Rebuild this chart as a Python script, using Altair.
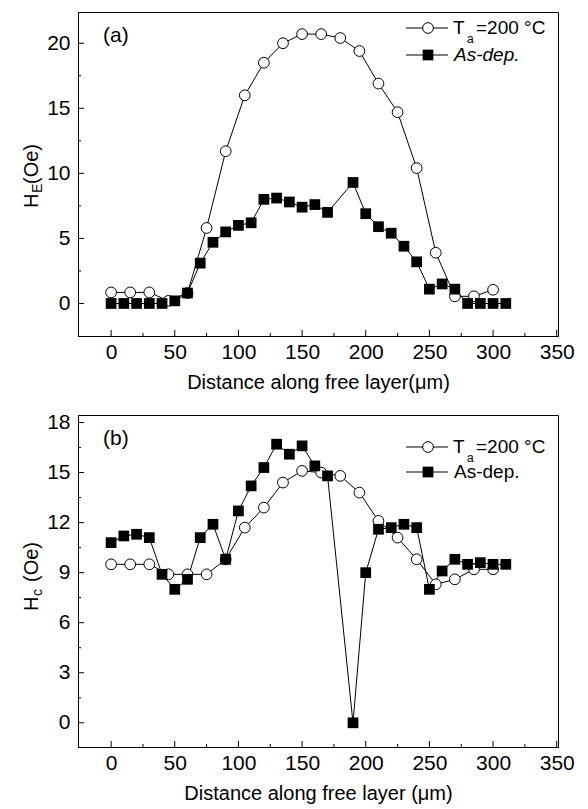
import altair as alt
import pandas as pd

FONT = "Liberation Sans"

# ---- data ----
sq_x = [0, 10, 20, 30, 40, 50, 60, 70, 80, 90, 100, 110, 120, 130, 140, 150, 160, 170,
        190, 200, 210, 220, 230, 240, 250, 260, 270, 280, 290, 300, 310]
circ_x = [0, 15, 30, 45, 60, 75, 90, 105, 120, 135, 150, 165, 180, 195, 210, 225, 240,
          255, 270, 285, 300]

he_asdep = [0, 0, 0, 0, 0, 0.2, 0.8, 3.1, 4.7, 5.5, 6.0, 6.2, 8.0, 8.1, 7.8, 7.4, 7.6, 7.0,
            9.3, 6.9, 5.9, 5.4, 4.4, 3.2, 1.1, 1.5, 1.1, 0, 0, 0, 0]
he_annealed = [0.85, 0.85, 0.85, 0.2, 0.8, 5.8, 11.7, 16.0, 18.5, 20.0, 20.7, 20.7, 20.4,
               19.4, 16.9, 14.7, 10.4, 3.9, 0.55, 0.55, 1.05]

hc_asdep = [10.8, 11.2, 11.3, 11.1, 8.9, 8.0, 8.6, 11.1, 11.9, 9.8, 12.7, 14.2, 15.3, 16.7,
            16.1, 16.6, 15.4, 14.8, 0, 9.0, 11.6, 11.7, 11.9, 11.7, 8.0, 9.1, 9.8, 9.5, 9.6,
            9.5, 9.5]
hc_annealed = [9.5, 9.5, 9.5, 8.9, 8.9, 8.9, 9.8, 11.7, 12.9, 14.4, 15.1, 15.0, 14.8, 13.8,
               12.1, 11.1, 9.8, 8.3, 8.6, 9.2, 9.2]

x_ticks = [0, 50, 100, 150, 200, 250, 300, 350]
x_minor = [25, 75, 125, 175, 225, 275, 325]
he_ticks = [0, 5, 10, 15, 20]
he_minor = [2.5, 7.5, 12.5, 17.5]
hc_ticks = [0, 3, 6, 9, 12, 15, 18]
hc_minor = [1.5, 4.5, 7.5, 10.5, 13.5, 16.5]

legend_annealed = "=200 °C"
legend_asdep = "As-dep."

W = 480
XDOM = [-26, 351]


def txt(text, x, y, size=20, angle=0, align="left", baseline="middle", style="normal"):
    props = dict(text=text, font=FONT, fontSize=size, align=align, baseline=baseline,
                 color="black", fontStyle=style)
    if angle:
        props["angle"] = angle
    return alt.Chart(alt.Data(values=[{}])).mark_text(**props).encode(
        x=alt.value(x), y=alt.value(y))


def panel(circ_y, sq_y, ydom, yticks, yminor, H, sub, rest, tag, xtitle, italic, leg_y):
    xs = alt.Scale(domain=XDOM, nice=False, zero=False)
    ys = alt.Scale(domain=ydom, nice=False, zero=False)
    xaxis = alt.Axis(values=x_ticks, ticks=False, labelPadding=5, labelFontSize=21,
                     title=xtitle, titleFontSize=20, titlePadding=10, grid=False)
    yaxis = alt.Axis(values=yticks, ticks=False, labelPadding=8, labelFontSize=21,
                     title=None, grid=False)
    X = alt.X("x:Q", scale=xs, axis=xaxis)
    Y = alt.Y("y:Q", scale=ys, axis=yaxis)
    dc = pd.DataFrame({"x": circ_x, "y": circ_y})
    ds = pd.DataFrame({"x": sq_x, "y": sq_y})

    line_c = alt.Chart(dc).mark_line(color="black", strokeWidth=1).encode(x=X, y=Y)
    line_s = alt.Chart(ds).mark_line(color="black", strokeWidth=1).encode(x=X, y=Y)
    pts_c = alt.Chart(dc).mark_circle(fill="white", stroke="black", strokeWidth=1,
                                      size=115, opacity=1).encode(x=X, y=Y)
    pts_s = alt.Chart(ds).mark_square(color="black", size=115, opacity=1).encode(x=X, y=Y)

    ytm = alt.Chart(pd.DataFrame({"y": yticks})).mark_rule(color="black").encode(
        y=Y, x=alt.value(0), x2=alt.value(6))
    ytn = alt.Chart(pd.DataFrame({"y": yminor})).mark_rule(color="black").encode(
        y=Y, x=alt.value(0), x2=alt.value(3))
    xtm = alt.Chart(pd.DataFrame({"x": x_ticks})).mark_rule(color="black").encode(
        x=X, y=alt.value(H), y2=alt.value(H - 6))
    xtn = alt.Chart(pd.DataFrame({"x": x_minor})).mark_rule(color="black").encode(
        x=X, y=alt.value(H), y2=alt.value(H - 3))

    # legend (drawn)
    r1, r2 = leg_y
    leg = [
        alt.Chart(alt.Data(values=[{}])).mark_rule(color="black", strokeWidth=1).encode(
            x=alt.value(328), x2=alt.value(370), y=alt.value(r1)),
        alt.Chart(alt.Data(values=[{}])).mark_rule(color="black", strokeWidth=1).encode(
            x=alt.value(328), x2=alt.value(370), y=alt.value(r2)),
        alt.Chart(alt.Data(values=[{}])).mark_circle(fill="white", stroke="black",
                                                     strokeWidth=1, size=115, opacity=1).encode(
            x=alt.value(350), y=alt.value(r1)),
        alt.Chart(alt.Data(values=[{}])).mark_square(color="black", size=115, opacity=1).encode(
            x=alt.value(350), y=alt.value(r2)),
        txt("T", 375, r1, size=19),
        txt("a", 389, r1 + 11, size=12),
        txt(legend_annealed, 398, r1, size=19),
        txt(legend_asdep, 376, r2, size=19, style="italic" if italic else "normal"),
    ]

    # panel tag and y-axis title (with subscript)
    y0 = 196
    ylab = [
        txt("H", -46, y0, size=20, angle=270),
        txt(sub, -40, y0 - 15, size=14, angle=270),
        txt(rest, -46, y0 - 15 - (9 if sub == "E" else 14), size=20, angle=270),
    ]
    tagm = txt(tag, 25, 24, size=21)

    return alt.layer(line_c, line_s, pts_c, pts_s, ytm, ytn, xtm, xtn, *leg, *ylab, tagm).properties(
        width=W, height=H)


top = panel(he_annealed, he_asdep, [-2.5, 22.4], he_ticks, he_minor, 324, "E", "(Oe)",
            "(a)", "Distance along free layer(μm)", True, (16, 43))
bottom = panel(hc_annealed, hc_asdep, [-1.45, 18.45], hc_ticks, hc_minor, 332, "c", "(Oe)",
               "(b)", "Distance along free layer (μm)", False, (32, 57))

chart = alt.vconcat(top, bottom, spacing=18).configure_view(
    stroke="black", strokeWidth=1
).configure_axis(
    domainColor="black", domainWidth=1, labelColor="black", titleColor="black",
    labelFont=FONT, titleFont=FONT, titleFontWeight="normal", grid=False
).properties(padding={"left": 13, "top": 3, "right": 5, "bottom": 5})

chart.save("out.html", embed_options={"renderer": "svg", "actions": False})
